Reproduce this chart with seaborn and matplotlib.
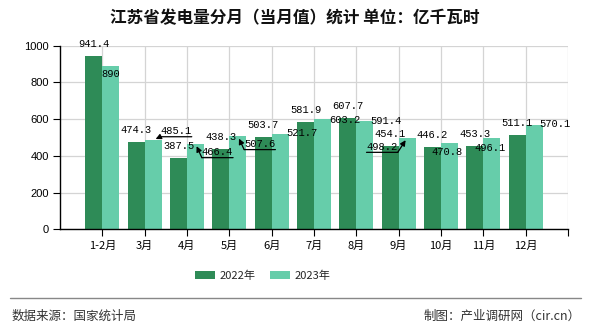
import matplotlib
matplotlib.use('Agg')
import matplotlib.pyplot as plt
import seaborn as sns
import pandas as pd
from matplotlib.lines import Line2D
from matplotlib.patches import Patch

# ---- data ----
categories = ['1-2月', '3月', '4月', '5月', '6月', '7月', '8月', '9月', '10月', '11月', '12月']
series_names = ['2022年', '2023年']
values_2022 = [941.4, 474.3, 387.5, 438.3, 503.7, 581.9, 607.7, 454.1, 446.2, 453.3, 511.1]
values_2023 = [890, 485.1, 466.4, 507.6, 521.7, 603.2, 591.4, 498.2, 470.8, 496.1, 570.1]
y_ticks = [0, 200, 400, 600, 800, 1000]
title = '江苏省发电量分月（当月值）统计 单位：亿千瓦时'
source_text = '数据来源：国家统计局'
credit_text = '制图：产业调研网（cir.cn）'

# ---- styles ----
colors = ['#2E8B57', '#66CDAA']
# label offsets (pixels, y up; text centre relative to bar top centre) for 2023 series
offsets_2023 = [(0, -8), (23, 9), (22, -8.5), (22, -8), (22, 0.5), (22, -1),
                (21.5, 0), (-25, -9), (-2, -9), (-1.5, -9.5), (20.5, 0.7)]
# leader lines: index -> relpos corner of label
leaders_2023 = {1: (0, 0), 2: (0, 0), 3: (0, 0), 7: (1, 0)}

sns.set_theme(style='white')
plt.rcParams['font.family'] = ['Noto Sans CJK SC', 'DejaVu Sans']

df = pd.DataFrame({
    '月份': categories * 2,
    '发电量': values_2022 + values_2023,
    '年份': [series_names[0]] * len(categories) + [series_names[1]] * len(categories),
})

fig = plt.figure(figsize=(5.9, 3.3), dpi=100)
fig.patch.set_facecolor('white')
ax = fig.add_axes([60 / 590, 1 - 229.3 / 330, 508 / 590, 183.6 / 330])

sns.barplot(data=df, x='月份', y='发电量', hue='年份', palette=colors,
            width=0.8, saturation=1, ax=ax, legend=False, zorder=2, linewidth=0)

ax.set_xlim(-1, 11)
ax.set_ylim(0, 1000)
ax.set_yticks(y_ticks)
ax.set_xticks(range(len(categories)))
ax.set_xticklabels(categories)
ax.set_xticks([11], minor=True)
ax.set_xlabel('')
ax.set_ylabel('')
ax.set_axisbelow(True)
ax.grid(True, axis='both', which='both', color='#d4d4d4', linewidth=0.9, zorder=0)

for s in ['top', 'right']:
    ax.spines[s].set_visible(False)
for s in ['left', 'bottom']:
    ax.spines[s].set_color('black')
    ax.spines[s].set_linewidth(1)

ax.tick_params(axis='both', which='both', direction='out', length=5, width=0.8,
               color='black', labelsize=8, labelcolor='black', pad=3)
ax.tick_params(axis='x', which='both', bottom=True)
ax.tick_params(axis='y', left=True)
for lab in ax.get_yticklabels():
    lab.set_fontfamily('Liberation Sans')

# value labels
label_font = dict(fontfamily='Liberation Mono', fontsize=7.5, color='black')
c22, c23 = ax.containers[0], ax.containers[1]
for bar, v in zip(c22, values_2022):
    x = bar.get_x() + bar.get_width() / 2
    ax.annotate(f'{v:g}', xy=(x, v), xytext=(0, 12), textcoords='offset pixels',
                ha='center', va='center', zorder=5, **label_font)

for i, (bar, v) in enumerate(zip(c23, values_2023)):
    x = bar.get_x() + bar.get_width() / 2
    dx, dy = offsets_2023[i]
    t = ax.annotate(f'{v:g}', xy=(x, v), xytext=(dx, dy), textcoords='offset pixels',
                    ha='center', va='center', zorder=5, **label_font)
    if i in leaders_2023:
        ax.annotate('', xy=(1, -0.05), xycoords=t, xytext=(0, -0.05), textcoords=t,
                    arrowprops=dict(arrowstyle='-', lw=0.9, color='black',
                                    shrinkA=0, shrinkB=0), zorder=5)
        rx, ry = leaders_2023[i]
        ax.annotate('', xy=(x, v), xycoords='data', xytext=(rx, -0.05), textcoords=t,
                    arrowprops=dict(arrowstyle='-|>', lw=0.9, color='black',
                                    mutation_scale=8, shrinkA=0, shrinkB=2), zorder=5)

# title
fig.text(0.5, 1 - 18 / 330, title, ha='center', va='center', fontsize=12,
         fontweight='bold', color='#111111')

# legend
handles = [Patch(facecolor=colors[0], edgecolor='none'),
           Patch(facecolor=colors[1], edgecolor='none')]
fig.legend(handles, series_names, loc='center', bbox_to_anchor=(263 / 590, 1 - 276 / 330),
           ncol=2, frameon=False, fontsize=8, handlelength=1.8, handleheight=0.75,
           handletextpad=0.4, columnspacing=1.3, borderpad=0)

# footer
fig.add_artist(Line2D([10 / 590, 581 / 590], [1 - 298 / 330] * 2, color='#888888', lw=1))
fig.text(12 / 590, 1 - 316 / 330, source_text, ha='left', va='center', fontsize=9, color='#333333')
fig.text(581 / 590, 1 - 316 / 330, credit_text, ha='right', va='center', fontsize=9, color='#333333')

fig.savefig('out.png', dpi=100, facecolor='white')
